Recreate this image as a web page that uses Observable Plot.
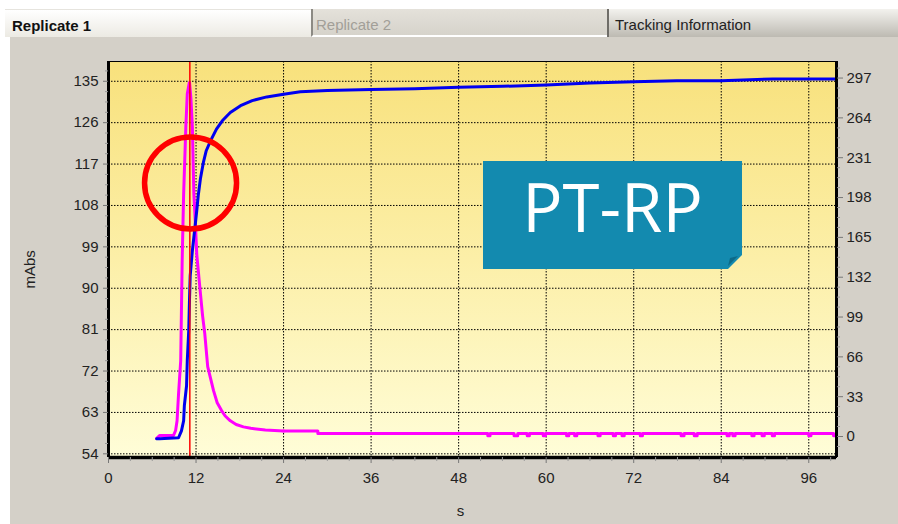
<!DOCTYPE html>
<html>
<head>
<meta charset="utf-8">
<script src="https://cdn.jsdelivr.net/npm/d3@7"></script>
<script src="https://cdn.jsdelivr.net/npm/@observablehq/plot@0.6"></script>
<style>
  html, body { margin: 0; padding: 0; }
  body { width: 898px; height: 524px; overflow: hidden; position: relative; background: #ffffff; font-family: "Liberation Sans", Arial, sans-serif; }
  #panel { position: absolute; left: 10px; top: 37px; width: 888px; height: 487px; background: #D4D0C8; }
  .tab { position: absolute; top: 9px; height: 28px; box-sizing: border-box; padding-left: 7px; line-height: 31px; font-size: 15px; white-space: nowrap; }
  #tab1 { left: 5px; width: 306px; background: linear-gradient(#ffffff, #ECEAE3); font-weight: bold; color: #111; border-top: 1px solid #e6e4de; }
  #tab2 { left: 311px; width: 296px; background: linear-gradient(#E4E1DA, #D6D3CB); color: #A29F98; border-left: 2px solid #8c8a84; padding-left: 3px; border-bottom: 2px solid #ffffff; }
  #tab3 { left: 607px; width: 291px; background: linear-gradient(#F3F2EE, #BDBAB2); color: #222; border-left: 2px solid #6f6d68; padding-left: 6px; }
  #chart { position: absolute; left: 0; top: 0; }
  #badge { position: absolute; left: 483px; top: 161px; width: 259px; height: 108px; background: #138AAF;
           clip-path: polygon(0 0, 259px 0, 259px 94px, 245px 108px, 0 108px); }
  #badge span { position: absolute; left: 0; top: 12px; width: 100%; text-align: center; line-height: 66px; font-family: "Open Sans", sans-serif; font-size: 67px; color: #ffffff; }
  #fold { position: absolute; left: 728px; top: 256px; width: 10px; height: 10px; background: #0C6A88; clip-path: polygon(10px 0, 0 10px, 2px 2px); }
</style>
</head>
<body>
<div id="panel"></div>
<div class="tab" id="tab1">Replicate 1</div>
<div class="tab" id="tab2">Replicate 2</div>
<div class="tab" id="tab3">Tracking Information</div>
<div id="chart"></div>
<div id="badge"><span>PT-RP</span></div>
<div id="fold"></div>
<script>
// ---- axis ticks ----
const xTicks = [0, 12, 24, 36, 48, 60, 72, 84, 96];
const xMinor = [3, 6, 9, 15, 18, 21, 27, 30, 33, 39, 42, 45, 51, 54, 57, 63, 66, 69, 75, 78, 81, 87, 90, 93, 99];
const leftTicks = [54, 63, 72, 81, 90, 99, 108, 117, 126, 135];
const leftMinor = [56.25, 58.5, 60.75, 65.25, 67.5, 69.75, 74.25, 76.5, 78.75, 83.25, 85.5, 87.75, 92.25, 94.5, 96.75, 101.25, 103.5, 105.75, 110.25, 112.5, 114.75, 119.25, 121.5, 123.75, 128.25, 130.5, 132.75, 137.25];
const rightTicks = [0, 33, 66, 99, 132, 165, 198, 231, 264, 297];
const rightMinor = [-8.25, 8.25, 16.5, 24.75, 41.25, 49.5, 57.75, 74.25, 82.5, 90.75, 107.25, 115.5, 123.75, 140.25, 148.5, 156.75, 173.25, 181.5, 189.75, 206.25, 214.5, 222.75, 239.25, 247.5, 255.75, 272.25, 280.5, 288.75, 305.25];

// ---- blue trace (mAbs, left axis) ----
const blueTime = [6.6, 7.0, 9.6, 10.0, 10.3, 10.4, 10.7, 10.8, 11.0, 11.1, 11.2, 11.5, 11.8, 12.1, 12.3, 12.6, 13.0, 13.4, 14.0, 14.8, 15.6, 16.7, 18.1, 19.7, 21.7, 24.0, 26.3, 30, 36, 42, 48, 54, 60, 66, 72, 77.9, 84, 91.1, 99.8];
const blueValue = [57.3, 57.3, 57.5, 59.0, 61.2, 64.5, 68.8, 74.3, 80.8, 87.3, 92.7, 98.2, 102.5, 106.9, 110.1, 113.8, 117.3, 119.9, 122.1, 124.6, 126.4, 128.2, 129.7, 130.8, 131.6, 132.2, 132.7, 133.0, 133.2, 133.4, 133.7, 133.9, 134.2, 134.6, 134.9, 135.1, 135.1, 135.5, 135.5];

// ---- magenta trace (right axis units): peak part ----
const magentaPeakTime = [6.6, 7.0, 8.9, 9.2, 9.4, 9.6, 9.9, 10.1, 10.3, 10.6, 10.8, 11.1, 11.3, 11.5, 11.7, 11.9, 12.1, 12.5, 12.9, 13.2, 13.6, 14.0, 14.4, 14.9, 15.5, 16.0, 16.7, 17.5, 18.5, 19.5, 21.5, 24.0];
const magentaPeakValue = [-1.5, 0.8, 0.8, 5, 13, 35, 63, 146, 201, 256, 284, 294, 280, 256, 201, 178, 151, 125, 100, 85, 58, 48, 38, 28, 21.5, 17, 13, 10, 8, 6.8, 5.5, 4.5];
// ---- magenta trace: baseline with small dips ----
const magentaTailTime = [24.0, 28.7,
  52.0, 52.3, 55.6, 56.1, 57.4, 57.7, 59.6, 59.9, 62.8, 63.1, 63.9, 64.2, 67.1, 67.4, 69.2, 69.5, 70.4, 70.7, 72.9, 73.2, 78.5, 78.9, 80.3, 80.7, 84.8, 85.1, 85.6, 85.9, 88.2, 88.5, 89.6, 89.9, 91.0, 91.3, 96.0, 96.3, 99.4, 99.8];
const magentaTailValue = [4.5, 2.5,
  0.6, 2.5, 0.6, 2.5, 0.6, 2.5, 0.6, 2.5, 0.6, 2.5, 0.6, 2.5, 0.6, 2.5, 0.6, 2.5, 0.6, 2.5, 0.6, 2.5, 0.6, 2.5, 0.6, 2.5, 0.6, 2.5, 0.6, 2.5, 0.6, 2.5, 0.6, 2.5, 0.6, 2.5, 0.6, 2.5, 0.6, 0.6];

// ---- annotations ----
const markerTime = 11.15;
const circleTime = 11.25;
const circleValue = 112.9;
const leftLabel = "mAbs";
const xLabel = "s";

// right axis (0..297) mapped onto left axis (mAbs)
const toLeft = r => 57.76 + r * (135.7 - 57.76) / 297;

const blue = blueTime.map((t, i) => ({t, v: blueValue[i]}));
const magentaPeak = magentaPeakTime.map((t, i) => ({t, v: toLeft(magentaPeakValue[i])}));
const magentaTail = magentaTailTime.map((t, i) => ({t, v: toLeft(magentaTailValue[i])}));

const grid = {stroke: "#000", strokeOpacity: 1, strokeWidth: 1, strokeDasharray: "1.5,1.5"};
const font = 15;

const svg = Plot.plot({
  width: 898,
  height: 524,
  marginLeft: 108,
  marginRight: 62,
  marginTop: 61,
  marginBottom: 67,
  style: {background: "transparent", fontFamily: "'Liberation Sans', Arial, sans-serif", fontSize: "15px", color: "#222"},
  x: {domain: [0, 99.8]},
  y: {domain: [53.2, 139.3]},
  marks: [
    Plot.frame({fill: "url(#bgGrad)", stroke: "none"}),
    Plot.gridX(xTicks, grid),
    Plot.gridY(leftTicks, grid),
    Plot.line(magentaPeak, {x: "t", y: "v", stroke: "#FF00FF", strokeWidth: 3, strokeLinejoin: "miter"}),
    Plot.line(magentaTail, {x: "t", y: "v", stroke: "#FF00FF", strokeWidth: 3, curve: "step-after"}),
    Plot.line(blue, {x: "t", y: "v", stroke: "#0000F0", strokeWidth: 3}),
    Plot.ruleX([markerTime], {stroke: "#FF0000", strokeWidth: 1.5}),
    Plot.dot([circleTime], {x: d => d, y: () => circleValue, r: 46, stroke: "#FF0000", strokeWidth: 5.5, fill: "none"}),
    Plot.frame({stroke: "#000", strokeWidth: 1}),
    Plot.ruleX([0], {stroke: "#000", strokeWidth: 3}),
    Plot.ruleX([99.8], {stroke: "#000", strokeWidth: 3}),
    Plot.ruleY([53.2], {stroke: "#000", strokeWidth: 3.5}),
    Plot.axisY(leftTicks, {anchor: "left", tickSize: 5, tickPadding: 5, stroke: "#777", fill: "#222", fontSize: font, label: null}),
    Plot.axisY(leftMinor, {anchor: "left", tickSize: 3, stroke: "#999", fill: "none", label: null}),
    Plot.axisY(rightTicks, {anchor: "right", y: toLeft, tickFormat: d => d, tickSize: 6, tickPadding: 4, stroke: "#777", fill: "#222", fontSize: font, label: null}),
    Plot.axisY(rightMinor, {anchor: "right", y: toLeft, tickSize: 3, stroke: "#999", fill: "none", label: null}),
    Plot.axisX(xTicks, {anchor: "bottom", tickSize: 6, tickPadding: 9, stroke: "#777", fill: "#222", fontSize: font, label: null}),
    Plot.axisX(xMinor, {anchor: "bottom", tickSize: 4, stroke: "#999", fill: "none", label: null}),
    Plot.text([leftLabel], {text: d => d, frameAnchor: "left", dx: -78, dy: 29, rotate: -90, fontSize: 15, fill: "#222"}),
    Plot.text([xLabel], {text: d => d, frameAnchor: "bottom", dx: -12, dy: 58, fontSize: 15, fill: "#222"})
  ]
});

const ns = "http://www.w3.org/2000/svg";
const defs = document.createElementNS(ns, "defs");
defs.innerHTML = '<linearGradient id="bgGrad" x1="0" y1="0" x2="0" y2="1">' +
  '<stop offset="0" stop-color="#F8E17C"/><stop offset="0.5" stop-color="#FCEFA8"/><stop offset="1" stop-color="#FFFDD8"/></linearGradient>';
svg.insertBefore(defs, svg.firstChild);
document.getElementById("chart").appendChild(svg);
</script>
</body>
</html>
